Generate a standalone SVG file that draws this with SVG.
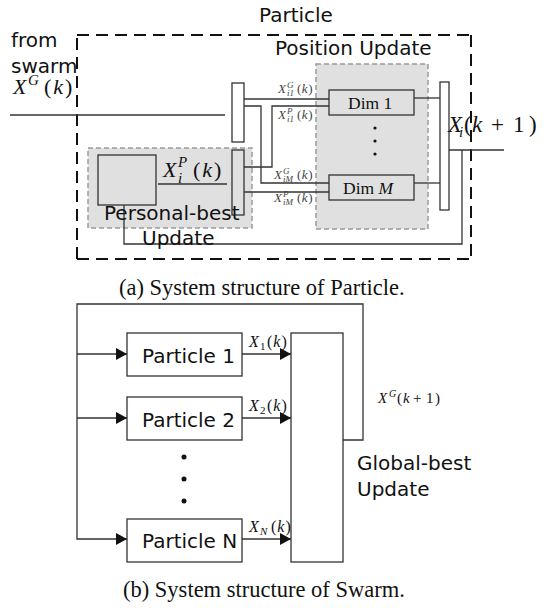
<svg xmlns="http://www.w3.org/2000/svg" width="546" height="608" viewBox="0 0 546 608">
<defs>
<style>
.sans{font-family:"DejaVu Sans",sans-serif;font-size:20px;fill:#111}
.serif{font-family:"Liberation Serif","Times New Roman",serif;fill:#111}
.it{font-style:italic}
.ln{fill:none;stroke:#333;stroke-width:1.3}
.box{fill:#fff;stroke:#333;stroke-width:1.3}
.gbox{fill:#e0e0e0;stroke:#333;stroke-width:1.3}
.region{fill:#e0e0e0;stroke:#9a9a9a;stroke-width:1.5;stroke-dasharray:5 3}
.outer{fill:none;stroke:#111;stroke-width:2;stroke-dasharray:12 7}
.small{font-size:13px;fill:#444}
.dot{fill:#111}
</style>
<marker id="arr" markerUnits="userSpaceOnUse" markerWidth="11" markerHeight="12" refX="11" refY="6" orient="auto">
<path d="M0,0 L11,6 L0,12 z" fill="#111"/>
</marker>
</defs>
<rect width="546" height="608" fill="#fff"/>

<!-- ===== (a) Particle ===== -->
<g id="particle-frame">
<path class="outer" d="M77,35 H471"/>
<path class="outer" d="M471,35 V259"/>
<path class="outer" d="M77,259 H471"/>
<path class="outer" d="M77,259 V35"/>
<text class="sans" x="259" y="22">Particle</text>
</g>

<g id="position-update">
<rect class="region" x="316" y="64" width="112" height="165"/>
<text class="sans" x="275" y="55">Position Update</text>
</g>

<g id="personal-best-update">
<rect class="region" x="88" y="148" width="164" height="80"/>
<rect class="gbox" x="98" y="155" width="58" height="50"/>
</g>

<g id="bar-global">
<rect class="box" x="232" y="83" width="12" height="59"/>
</g>
<g id="bar-personal">
<rect class="gbox" x="232" y="150" width="12" height="65"/>
</g>
<g id="bar-out">
<rect class="box" x="440" y="82" width="9" height="128"/>
</g>

<g id="dim-1">
<rect class="gbox" x="329" y="90" width="85" height="25"/>
<text class="serif" font-size="17.5" x="348" y="109">Dim 1</text>
</g>
<g id="dim-M">
<rect class="gbox" x="329" y="175" width="85" height="25"/>
<text class="serif" font-size="17.5" x="343" y="194">Dim <tspan class="it">M</tspan></text>
</g>
<g id="dim-dots">
<circle class="dot" cx="375" cy="128" r="1.6"/>
<circle class="dot" cx="375" cy="141" r="1.6"/>
<circle class="dot" cx="375" cy="154" r="1.6"/>
</g>

<g id="connectors-a">
<path class="ln" d="M10,115 H225"/>
<path class="ln" d="M158,184 H227"/>
<path class="ln" d="M244,99 H329"/>
<path class="ln" d="M244,106 H261 V183 H329"/>
<path class="ln" d="M244,167 H272 V106 H329"/>
<path class="ln" d="M244,192 H329"/>
<path class="ln" d="M414,98 H440"/>
<path class="ln" d="M414,183 H440"/>
<path class="ln" d="M449,150 H504"/>
<path class="ln" d="M462,150 V244 H124 V205"/>
</g>

<g id="labels-a">
<text class="sans" x="11" y="47">from</text>
<text class="sans" x="11" y="73">swarm</text>
<text class="sans" x="104" y="220">Personal-best</text>
<text class="sans" x="142" y="245">Update</text>

<text class="serif" font-size="22" x="13" y="94"><tspan class="it">X</tspan><tspan class="it" font-size="15" x="28" y="85">G</tspan><tspan x="44" y="94" letter-spacing="2">(<tspan class="it">k</tspan>)</tspan></text>

<text class="serif" font-size="22" x="163" y="177"><tspan class="it">X</tspan><tspan class="it" font-size="15" x="178" y="167">P</tspan><tspan class="it" font-size="15" x="178" y="183">i</tspan><tspan x="193" y="177" letter-spacing="2">(<tspan class="it">k</tspan>)</tspan></text>

<text class="serif" font-size="23" x="448" y="132"><tspan class="it">X</tspan><tspan class="it" font-size="15" x="459" y="137">i</tspan><tspan x="464" y="132">(</tspan><tspan class="it" x="472">k</tspan><tspan x="491">+</tspan><tspan x="513">1</tspan><tspan x="529">)</tspan></text>

<text class="serif small" x="278" y="93"><tspan class="it">X</tspan><tspan class="it" font-size="9" x="287" y="88">G</tspan><tspan class="it" font-size="9" x="287" y="96">i1</tspan><tspan x="297" y="93" letter-spacing="0.5">(<tspan class="it">k</tspan>)</tspan></text>
<text class="serif small" x="278" y="119"><tspan class="it">X</tspan><tspan class="it" font-size="9" x="287" y="114">P</tspan><tspan class="it" font-size="9" x="287" y="122">i1</tspan><tspan x="297" y="119" letter-spacing="0.5">(<tspan class="it">k</tspan>)</tspan></text>
<text class="serif small" x="274" y="179"><tspan class="it">X</tspan><tspan class="it" font-size="9" x="283" y="174">G</tspan><tspan class="it" font-size="9" x="283" y="182">iM</tspan><tspan x="297" y="179" letter-spacing="0.5">(<tspan class="it">k</tspan>)</tspan></text>
<text class="serif small" x="274" y="202"><tspan class="it">X</tspan><tspan class="it" font-size="9" x="283" y="197">P</tspan><tspan class="it" font-size="9" x="283" y="205">iM</tspan><tspan x="297" y="202" letter-spacing="0.5">(<tspan class="it">k</tspan>)</tspan></text>
</g>

<text class="serif" font-size="22.5" x="119" y="295">(a) System structure of Particle.</text>

<!-- ===== (b) Swarm ===== -->
<g id="particle-1">
<rect class="box" x="127" y="333" width="115" height="43"/>
<text class="sans" font-size="21" x="142" y="363">Particle 1</text>
</g>
<g id="particle-2">
<rect class="box" x="127" y="397" width="115" height="43"/>
<text class="sans" font-size="21" x="142" y="427">Particle 2</text>
</g>
<g id="particle-N">
<rect class="box" x="127" y="519" width="115" height="43"/>
<text class="sans" font-size="21" x="142" y="548">Particle N</text>
</g>
<g id="particle-dots">
<circle class="dot" cx="184" cy="457" r="2.5"/>
<circle class="dot" cx="184" cy="479" r="2.5"/>
<circle class="dot" cx="184" cy="501" r="2.5"/>
</g>
<g id="global-best-update">
<rect class="box" x="291" y="333" width="52" height="229"/>
<text class="sans" x="357" y="470">Global-best</text>
<text class="sans" x="357" y="496">Update</text>
</g>

<g id="connectors-b">
<path class="ln" d="M343,440 H363 V304 H77 V539 H127" marker-end="url(#arr)"/>
<path class="ln" d="M77,354 H127" marker-end="url(#arr)"/>
<path class="ln" d="M77,418 H127" marker-end="url(#arr)"/>
<path class="ln" d="M242,354 H291" marker-end="url(#arr)"/>
<path class="ln" d="M242,418 H291" marker-end="url(#arr)"/>
<path class="ln" d="M242,539 H291" marker-end="url(#arr)"/>
</g>

<g id="labels-b">
<text class="serif" font-size="16" x="249" y="347"><tspan class="it">X</tspan><tspan font-size="11" x="260" y="350">1</tspan><tspan x="267" y="347" letter-spacing="1">(<tspan class="it">k</tspan>)</tspan></text>
<text class="serif" font-size="16" x="249" y="411"><tspan class="it">X</tspan><tspan font-size="11" x="260" y="414">2</tspan><tspan x="267" y="411" letter-spacing="1">(<tspan class="it">k</tspan>)</tspan></text>
<text class="serif" font-size="16" x="249" y="532"><tspan class="it">X</tspan><tspan class="it" font-size="11" x="260" y="535">N</tspan><tspan x="271" y="532" letter-spacing="1">(<tspan class="it">k</tspan>)</tspan></text>
<text class="serif" font-size="15" x="378" y="403"><tspan class="it">X</tspan><tspan class="it" font-size="10" x="389" y="397">G</tspan><tspan x="397" y="403">(</tspan><tspan class="it" x="403">k</tspan><tspan x="413">+</tspan><tspan x="426">1</tspan><tspan x="435">)</tspan></text>
</g>

<text class="serif" font-size="22.5" x="123" y="597">(b) System structure of Swarm.</text>
</svg>
